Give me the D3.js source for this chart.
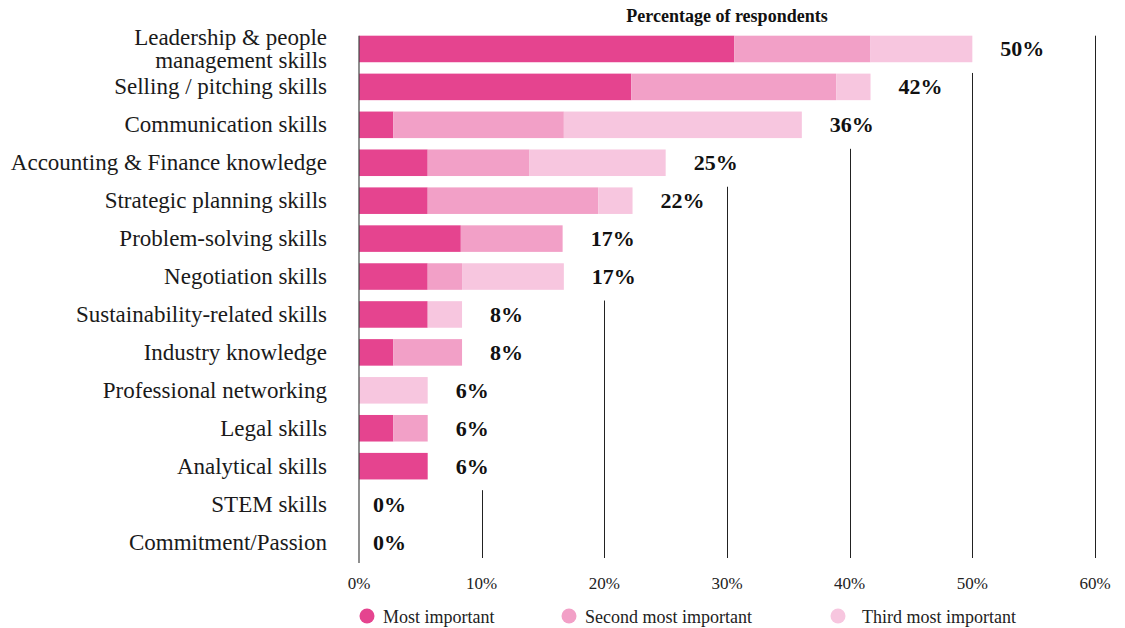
<!DOCTYPE html>
<html>
<head>
<meta charset="utf-8">
<script src="https://cdn.jsdelivr.net/npm/d3@7"></script>
<style>
  html, body { margin: 0; padding: 0; background: #fff; }
  svg { display: block; }
  text { font-family: "Liberation Serif", "Times New Roman", serif; }
</style>
</head>
<body>
<svg id="chart" width="1125" height="628"></svg>
<script>
// Skills rated most important, by rank of importance (share of respondents, %)
const categories = [
  "Leadership & people management skills",
  "Selling / pitching skills",
  "Communication skills",
  "Accounting & Finance knowledge",
  "Strategic planning skills",
  "Problem-solving skills",
  "Negotiation skills",
  "Sustainability-related skills",
  "Industry knowledge",
  "Professional networking",
  "Legal skills",
  "Analytical skills",
  "STEM skills",
  "Commitment/Passion"
];
const mostImportant   = [30.6, 22.2,  2.8,  5.6,  5.6, 8.3, 5.6, 5.6, 2.8, 0,   2.8, 5.6, 0, 0];
const secondImportant = [11.1, 16.7, 13.9,  8.3, 13.9, 8.3, 2.8, 0,   5.6, 0,   2.8, 0,   0, 0];
const thirdImportant  = [ 8.3,  2.8, 19.4, 11.1,  2.8, 0,   8.3, 2.8, 0,   5.6, 0,   0,   0, 0];

const seriesNames = ["Most important", "Second most important", "Third most important"];
const seriesColors = ["#e5448f", "#f2a0c7", "#f7c6df"];
const xTicks = [0, 10, 20, 30, 40, 50, 60];
const axisTitle = "Percentage of respondents";

const rows = categories.map((c, i) => ({
  category: c,
  values: [mostImportant[i], secondImportant[i], thirdImportant[i]],
  total: mostImportant[i] + secondImportant[i] + thirdImportant[i]
}));

const svg = d3.select("#chart");

const x = d3.scaleLinear().domain([0, 60]).range([359, 1095]);
const y = d3.scaleBand().domain(categories).range([30, 561])
  .paddingInner(0.3).paddingOuter(0.15);
const color = d3.scaleOrdinal().domain(seriesNames).range(seriesColors);

const plotTop = y(categories[0]);
const gridBottom = 558;
const axisBottom = 563;

const gridG = svg.append("g");
const barG = svg.append("g");
const labelG = svg.append("g");

// Axis title
svg.append("text")
  .attr("x", (x(0) + x(60)) / 2)
  .attr("y", 22)
  .attr("text-anchor", "middle")
  .attr("font-size", 18)
  .attr("font-weight", 700)
  .attr("fill", "#111")
  .text(axisTitle);

// Stacked segments
const stack = d3.stack().keys([0, 1, 2]).value((d, k) => d.values[k]);
const stacked = stack(rows);
barG.selectAll("g.series")
  .data(stacked)
  .join("g")
  .attr("class", "series")
  .attr("fill", (s, i) => seriesColors[i])
  .selectAll("rect")
  .data(s => s.map((seg, j) => ({ seg, row: rows[j] })))
  .join("rect")
  .filter(d => d.seg[1] - d.seg[0] > 0)
  .attr("x", d => x(d.seg[0]))
  .attr("width", d => x(d.seg[1]) - x(d.seg[0]))
  .attr("y", d => y(d.row.category))
  .attr("height", y.bandwidth());

// Total labels
const totalLabels = labelG.selectAll("text.total")
  .data(rows)
  .join("text")
  .attr("class", "total")
  .attr("x", d => x(d.total) + (d.total > 0 ? 28 : 14))
  .attr("y", d => y(d.category) + y.bandwidth() / 2 + 7.5)
  .attr("font-size", 22)
  .attr("font-weight", 700)
  .attr("fill", "#111")
  .text(d => Math.round(d.total) + "%");

// Right edge of each row (bar plus its label)
const rowExtent = [];
totalLabels.each(function(d) {
  rowExtent.push({
    right: +this.getAttribute("x") + this.getComputedTextLength() + 4,
    bottom: y(d.category) + y.bandwidth() / 2 + 24
  });
});

// Gridlines rise from the baseline until they reach a row that reaches past them
xTicks.filter(t => t > 0).forEach(t => {
  const px = x(t);
  let top = plotTop;
  rowExtent.forEach(r => { if (r.right > px) top = Math.max(top, r.bottom); });
  gridG.append("line")
    .attr("x1", Math.round(px) + 0.5).attr("x2", Math.round(px) + 0.5)
    .attr("y1", top).attr("y2", gridBottom)
    .attr("stroke", "#222").attr("stroke-width", 1);
});

// Zero line
svg.append("line")
  .attr("x1", x(0)).attr("x2", x(0))
  .attr("y1", plotTop).attr("y2", axisBottom)
  .attr("stroke", "#444").attr("stroke-opacity", 0.6).attr("stroke-width", 2);

// X tick labels
svg.append("g").selectAll("text")
  .data(xTicks)
  .join("text")
  .attr("x", d => x(d))
  .attr("y", 589)
  .attr("text-anchor", "middle")
  .attr("font-size", 17)
  .attr("fill", "#222")
  .text(d => d + "%");

// Category labels (wrapped where needed)
const catLines = {
  "Leadership & people management skills": ["Leadership & people", "management skills"]
};
const catG = svg.append("g");
rows.forEach(d => {
  const lines = catLines[d.category] || [d.category];
  const cy = y(d.category) + y.bandwidth() / 2;
  lines.forEach((ln, i) => {
    catG.append("text")
      .attr("text-anchor", "end")
      .attr("font-size", 23)
      .attr("fill", "#1a1a1a")
      .attr("x", 327)
      .attr("y", cy + 7.5 + (i - (lines.length - 1) / 2) * 23)
      .text(ln);
  });
});

// Legend
const legendX = [367, 569, 838];
const legend = svg.append("g").selectAll("g")
  .data(seriesNames)
  .join("g")
  .attr("transform", (d, i) => `translate(${legendX[i]},616)`);
legend.append("circle").attr("r", 7.5).attr("fill", d => color(d));
legend.append("text")
  .attr("x", (d, i) => i === 2 ? 24 : 16)
  .attr("y", 6.5)
  .attr("font-size", 18)
  .attr("fill", "#222")
  .text(d => d);
</script>
</body>
</html>
